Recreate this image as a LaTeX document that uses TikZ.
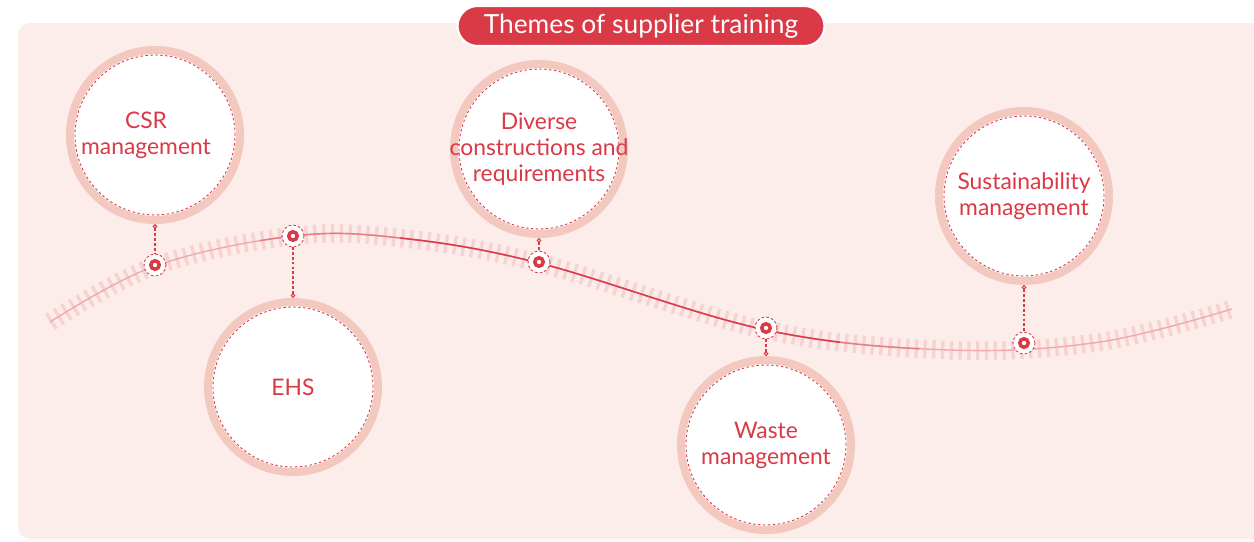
\documentclass[tikz,border=0pt]{standalone}
\usepackage{fontspec}
\setmainfont{Lato}
\usetikzlibrary{positioning,arrows.meta}

\definecolor{panelbg}{HTML}{FCEDEA}
\definecolor{ringpink}{HTML}{F3C8BF}
\definecolor{themered}{HTML}{D93A46}
\definecolor{trackpink}{HTML}{F7D2D2}
\definecolor{lightline}{HTML}{F0A9AE}
\definecolor{midline}{HTML}{E57B83}

\tikzset{
  topic/.style={circle, fill=white, draw=ringpink, line width=4.55pt, minimum size=3.4cm,
    inner sep=-0.3cm, align=center, text=themered, font=\fontsize{13}{14.8}\selectfont},
  topicdash/.style={themered, line width=0.5pt, dash pattern=on 1.4pt off 1.4pt},
  stopmark/.style={circle, fill=white, draw=themered, line width=0.5pt, dash pattern=on 1.5pt off 1.2pt,
    minimum size=0.44cm, inner sep=0pt,
    path picture={\draw[themered, line width=2pt, solid] (path picture bounding box.center) circle (0.085cm);}},
  link/.style={themered, line width=0.6pt, dash pattern=on 1.6pt off 1.2pt, {Circle[open,length=2.6pt,width=2.6pt,line width=0.6pt]}-},
  titlepill/.style={fill=themered, draw=white, line width=1.2pt, rounded corners=0.4cm,
    minimum width=7.34cm, minimum height=0.8cm, text=white, font=\fontsize{15}{18}\selectfont}
}

\begin{document}
\begin{tikzpicture}[x=0.02cm, y=-0.02cm]
  \useasboundingbox (0,0) rectangle (1254,541);
  \fill[panelbg, rounded corners=0.24cm] (18,23) rectangle (1290,539);

  % track
  \def\trackpath{plot[smooth, tension=0.6] coordinates {(50,322) (155,266) (293,236) (400,238) (539,263) (766,330) (950,350) (1100,342) (1232,309)}}
  \draw[trackpink, line width=10.5pt, dash pattern=on 1.9pt off 3.1pt] \trackpath;
  \draw[lightline, line width=0.8pt] \trackpath;
  \begin{scope}
    \clip (260,150) rectangle (920,420);
    \draw[midline, line width=0.8pt] \trackpath;
  \end{scope}
  \begin{scope}
    \clip (400,150) rectangle (840,420);
    \draw[themered, line width=0.8pt] \trackpath;
  \end{scope}

  % topics
  \node[topic] (csr) at (155,135) {CSR\hspace{0.36cm}\mbox{}\\management\hspace{0.36cm}\mbox{}};
  \node[topic] (ehs) at (293,387) {EHS};
  \node[topic] (diverse) at (539,149) {Diverse\\constructions and\\requirements};
  \node[topic] (waste) at (766,445) {Waste\\management};
  \node[topic] (sust) at (1024,196) {Sustainability\\management};
  \foreach \t in {csr,ehs,diverse,waste,sust}
    \draw[topicdash] (\t.center) circle (1.6cm);

  % stops on the track
  \node[stopmark] (m1) at (155,265) {};
  \node[stopmark] (m2) at (293,236) {};
  \node[stopmark] (m3) at (539,262) {};
  \node[stopmark] (m4) at (766,328) {};
  \node[stopmark] (m5) at (1024,343) {};

  \draw[link] (csr.south) -- (m1.north);
  \draw[link] (ehs.north) -- (m2.south);
  \draw[link] (diverse.south) -- (m3.north);
  \draw[link] (waste.north) -- (m4.south);
  \draw[link] (sust.south) -- (m5.north);

  \node[titlepill] (title) at (641,26) {Themes of supplier training};
\end{tikzpicture}
\end{document}
